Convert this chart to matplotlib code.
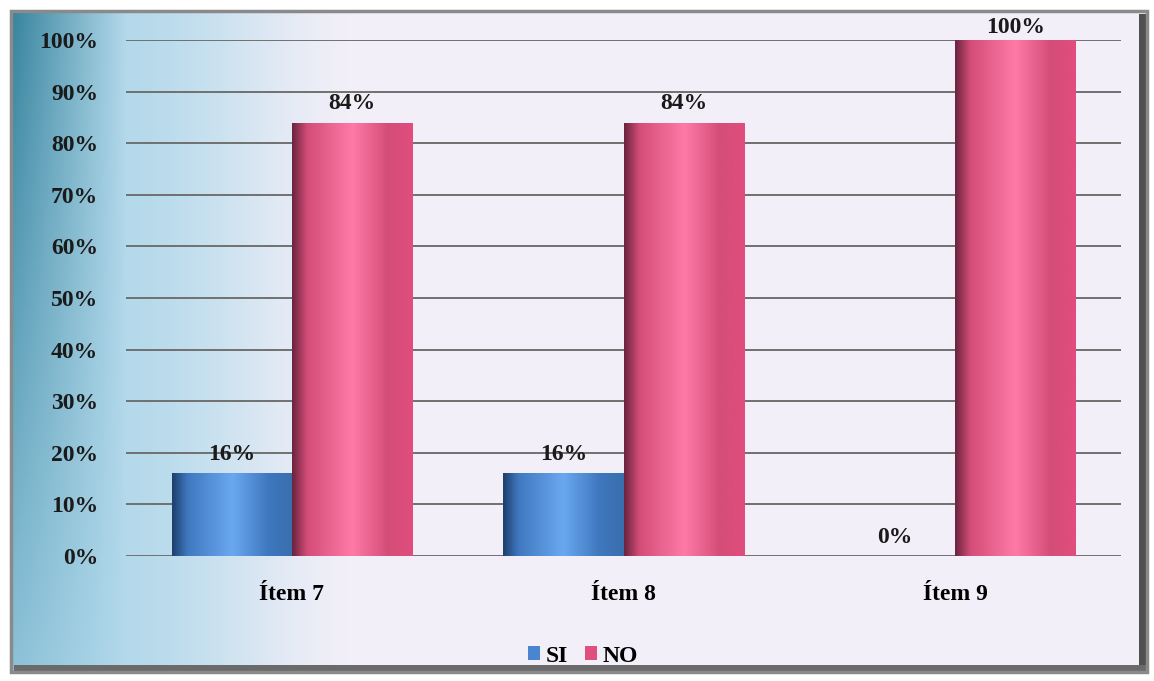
import numpy as np
import matplotlib
matplotlib.use("Agg")
import matplotlib.pyplot as plt
from matplotlib.patches import Rectangle
from matplotlib.colors import LinearSegmentedColormap

categories = ["Ítem 7", "Ítem 8", "Ítem 9"]
si_values = [16, 16, 0]
no_values = [84, 84, 100]
series_names = ["SI", "NO"]
yticks = [0, 10, 20, 30, 40, 50, 60, 70, 80, 90, 100]

plt.rcParams['font.family'] = ['Liberation Serif', 'DejaVu Serif']
W, H = 1154, 681
fig = plt.figure(figsize=(W/100, H/100), dpi=100)
fig.patch.set_facecolor('white')

# background with gradient
bg = fig.add_axes([0, 0, 1, 1], zorder=0)
bg.set_xlim(0, W); bg.set_ylim(H, 0); bg.axis('off')
nx, ny = 500, 250
xs = np.linspace(0, 1, nx)
ys = np.linspace(0, 1, ny)
X, Y = np.meshgrid(xs, ys)
light = np.array([0.955, 0.94, 0.975])
top_c = np.array([0.22, 0.52, 0.62])
bot_c = np.array([0.55, 0.76, 0.85])
mid_c = np.array([0.70, 0.85, 0.92])
side = top_c[None, None, :] * (1 - Y[..., None]) + bot_c[None, None, :] * Y[..., None]
t1 = np.clip(X / 0.10, 0, 1)[..., None]
c1 = side * (1 - t1) + mid_c[None, None, :] * t1
s = np.clip((X - 0.08) / 0.24, 0, 1)
t2 = (s * s * (3 - 2 * s))[..., None]
img = c1 * (1 - t2) + light[None, None, :] * t2
bg.imshow(np.clip(img, 0, 1), extent=[12, 1146, 672, 12], aspect='auto', zorder=1)
bg.add_patch(Rectangle((1139, 14), 8, 658, fc='#505050', ec='none', zorder=2))
bg.add_patch(Rectangle((14, 665), 1133, 7, fc='#6a6a6a', ec='none', zorder=2))
bg.add_patch(Rectangle((11, 11), 1136, 661, fill=False, ec='#8a8a8a', lw=2.5, zorder=3))

ax = fig.add_axes([126/W, 1-556/H, (1121-126)/W, (556-40)/H], zorder=2)
ax.patch.set_alpha(0)
x = np.arange(len(categories))
w = 0.362
ax.set_xlim(-0.5, len(categories) - 0.5)
ax.set_ylim(0, 100)
for yv in yticks:
    ax.axhline(yv, color='#707070', lw=1.4, zorder=1)

def cyl_cmap(dark, mid, bright, edge):
    return LinearSegmentedColormap.from_list(
        'c', [(0, dark), (0.12, mid), (0.5, bright), (0.8, mid), (1, edge)])

blue_cm = cyl_cmap('#1e4170', '#3f78bf', '#6aa8f0', '#3a6fae')
pink_cm = cyl_cmap('#6e2540', '#d44d78', '#ff7aa8', '#e04d7e')
grad = np.linspace(0, 1, 64)[None, :]

bars_si = ax.bar(x - w/2, si_values, w, color='#4a86d0', zorder=2, label=series_names[0])
bars_no = ax.bar(x + w/2, no_values, w, color='#e0507e', zorder=2, label=series_names[1])
for bars, cm in [(bars_si, blue_cm), (bars_no, pink_cm)]:
    for b in bars:
        if b.get_height() <= 0:
            continue
        x0, y0 = b.get_x(), b.get_y()
        im = ax.imshow(grad, cmap=cm, extent=[x0, x0 + b.get_width(), y0, y0 + b.get_height()],
                       aspect='auto', zorder=3)
        im.set_clip_path(b)

for bars, vals in [(bars_si, si_values), (bars_no, no_values)]:
    for b, v in zip(bars, vals):
        off = 0.4 if v >= 100 else 1.6
        ax.text(b.get_x() + b.get_width()/2, v + off, f"{v}%", ha='center', va='bottom',
                fontsize=17, fontweight='bold', color='#1a1a1a', zorder=4)

ax.set_xticks(x)
ax.set_xticklabels(categories, fontsize=17, fontweight='bold')
ax.set_yticks(yticks)
ax.set_yticklabels([f"{v}%" for v in yticks], fontsize=17, fontweight='bold', color='#1a1a1a')
ax.tick_params(length=0, pad=20)
ax.tick_params(axis='x', pad=20)
for s_ in ax.spines.values():
    s_.set_visible(False)

leg = fig.legend(handles=[bars_si, bars_no], labels=series_names, loc='center',
                 bbox_to_anchor=(583/W, 1-656/H), ncol=2, frameon=False,
                 prop={'size': 17, 'weight': 'bold'}, handlelength=0.5, handleheight=0.5,
                 handletextpad=0.25, columnspacing=0.7)

fig.savefig('out.png', dpi=100)
